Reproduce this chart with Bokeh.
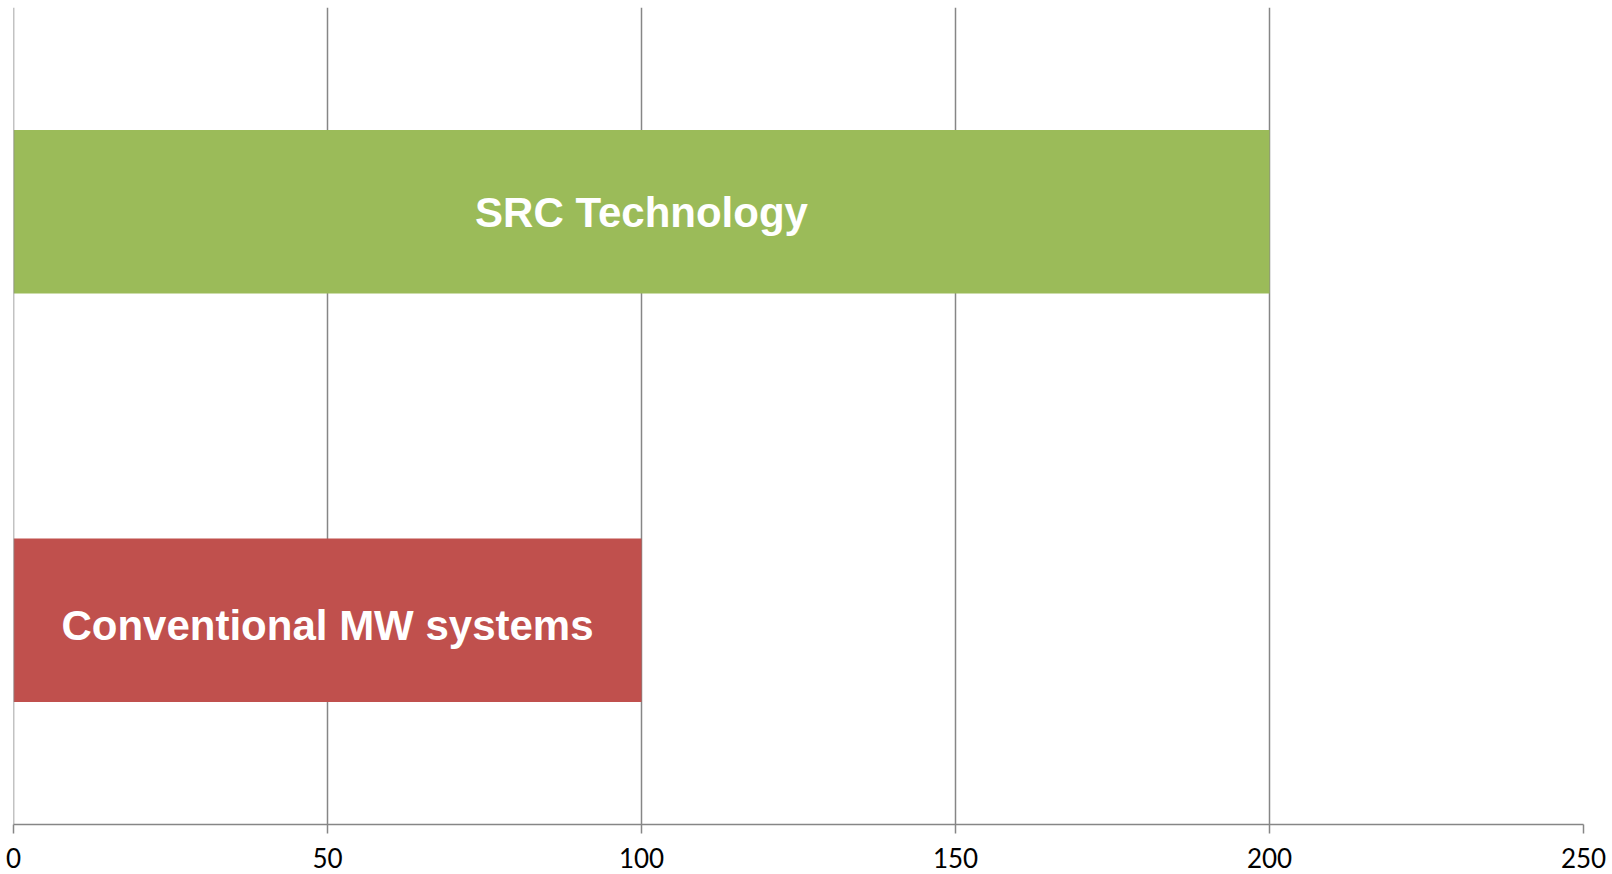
from bokeh.plotting import figure
from bokeh.models import ColumnDataSource, FixedTicker, CDSView, IndexFilter, Span
from bokeh.core.properties import value
from bokeh.embed import file_html
from bokeh.resources import INLINE

categories = ["Conventional MW systems", "SRC Technology"]
values = [100, 200]
colors = ["#C0504D", "#9BBB59"]
x_ticks = [0, 50, 100, 150, 200, 250]

src = ColumnDataSource(dict(
    cat=categories,
    val=values,
    mid=[v / 2 for v in values],
    color=colors,
))

p = figure(
    y_range=categories,
    x_range=(0, 250),
    width=1612,
    height=874,
    min_border_left=13,
    min_border_right=29,
    min_border_top=7,
    min_border_bottom=50,
    output_backend="svg",
    toolbar_location=None,
    background_fill_color="white",
    border_fill_color="white",
)
p.outline_line_color = None

p.hbar(y="cat", left=0, right="val", height=0.4, fill_color="color",
       line_color=None, source=src)

# label inside each bar (small per-label vertical nudge, as in the reference)
for i, dy in enumerate([-5, -1]):
    p.text(x="mid", y="cat", text="cat", source=src,
           view=CDSView(filter=IndexFilter([i])),
           text_align="center", text_baseline="middle", y_offset=-dy,
           text_color="white", text_font=value("Liberation Sans"),
           text_font_style="bold", text_font_size="42px")

grey = "#868686"
p.add_layout(Span(location=0, dimension="height", line_color=grey, line_width=1.5))

p.xaxis.ticker = FixedTicker(ticks=x_ticks)
p.xaxis.axis_line_color = grey
p.xaxis.axis_line_width = 1.5
p.xaxis.major_tick_line_color = grey
p.xaxis.major_tick_line_width = 1.5
p.xaxis.major_tick_out = 9
p.xaxis.major_tick_in = 0
p.xaxis.minor_tick_line_color = None
p.xaxis.major_label_standoff = 14
p.xaxis.major_label_text_font = "Lato"
p.xaxis.major_label_text_font_size = "26px"
p.xaxis.major_label_text_color = "black"

p.yaxis.visible = False

p.xgrid.grid_line_color = grey
p.xgrid.grid_line_width = 1.5
p.ygrid.grid_line_color = None

open("out.html", "w").write(file_html(p, INLINE))
